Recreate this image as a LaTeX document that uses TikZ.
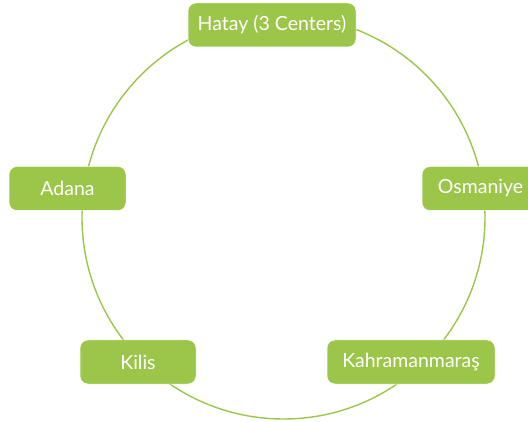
\documentclass[tikz,border=0pt]{standalone}
\usepackage{fontspec}
\setmainfont{Lato}
\usepackage{tikz}
\definecolor{cyclegreen}{RGB}{156,198,74}

\begin{document}
\begin{tikzpicture}[x=1pt, y=-1pt, line width=1.4pt,
    every node/.style={fill=cyclegreen, draw=white, line width=0.5pt,
      rounded corners=8pt, text=white, font=\fontsize{19.5}{22}\selectfont,
      minimum height=44pt, inner sep=0pt}]
    % page
    \useasboundingbox (0, 0) rectangle (528, 422);

    % the cycle behind the boxes
    \draw[cyclegreen] (283.5, 217.5) circle (201.5);

    % centers
    \node[minimum width=168pt] (hatay) at (272, 25) {Hatay (3 Centers)};
    \node[minimum width=117pt] (osmaniye) at (480.5, 188.5) {Osmaniye};
    \node[minimum width=168pt] (kahraman) at (411, 362) {Kahramanmaraş};
    \node[minimum width=116pt] (kilis) at (138, 362) {Kilis};
    \node[minimum width=117pt] (adana) at (67.5, 188.5) {Adana};
  \end{tikzpicture}
\end{document}
